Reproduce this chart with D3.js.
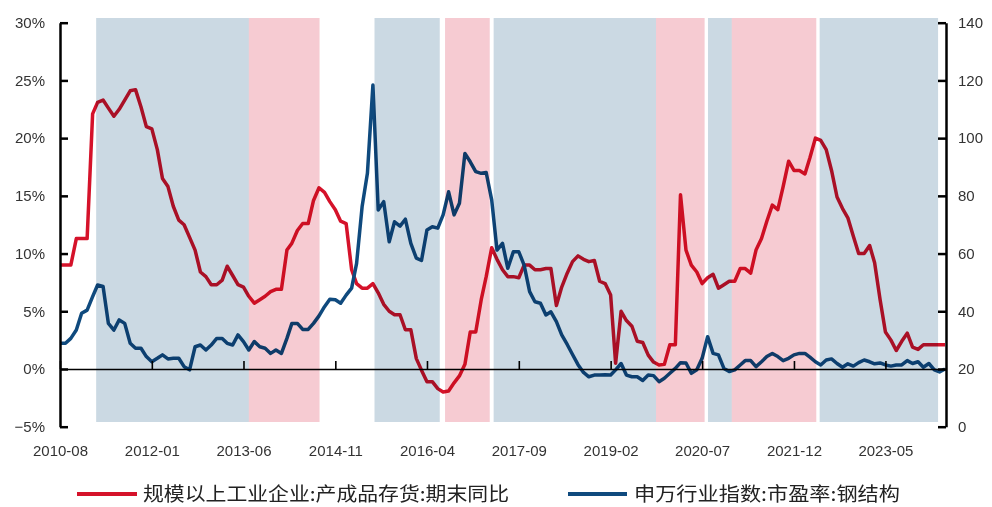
<!DOCTYPE html>
<html>
<head>
<meta charset="utf-8">
<script src="https://cdn.jsdelivr.net/npm/d3@7"></script>
<style>
  body { margin: 0; background: #fff; }
  svg { display: block; }
  .tick text { font-family: "Liberation Sans", Arial, sans-serif; font-size: 15px; fill: #333; }
  .legend text { font-family: "Noto Sans CJK SC", sans-serif; font-size: 19px; fill: #222; }
</style>
</head>
<body>
<svg id="chart" width="992" height="507"></svg>
<script>
// monthly data, 2010-08 .. 2024-04
var startMonth = "2010-08";
var endMonth = "2024-04";

// 规模以上工业企业:产成品存货:期末同比 (%)
var inventoryYoY = [
	9.0, 9.0, 9.0, 11.3, 11.3, 11.3, 22.1, 23.1, 23.3, 22.6,
	21.9, 22.5, 23.3, 24.1, 24.2, 22.7, 21.0, 20.8, 19.0, 16.5,
	15.8, 14.1, 12.9, 12.5, 11.4, 10.3, 8.4, 8.0, 7.3, 7.3,
	7.7, 8.9, 8.1, 7.3, 7.1, 6.3, 5.7, 6.0, 6.3, 6.7,
	6.9, 6.9, 10.3, 10.9, 12.0, 12.6, 12.6, 14.6, 15.7, 15.3,
	14.5, 13.8, 12.8, 12.6, 8.6, 7.4, 7.0, 7.0, 7.4, 6.6,
	5.6, 5.0, 4.7, 4.7, 3.4, 3.4, 0.9, -0.1, -1.1, -1.1,
	-1.7, -2.0, -1.9, -1.2, -0.6, 0.4, 3.2, 3.2, 6.0, 8.0,
	10.5, 9.5, 8.6, 8.0, 8.0, 7.9, 9.0, 9.0, 8.6, 8.6,
	8.7, 8.7, 5.5, 7.1, 8.3, 9.3, 9.8, 9.5, 9.3, 9.4,
	7.6, 7.4, 6.4, 0.5, 5.0, 4.2, 3.7, 2.4, 2.3, 1.2,
	0.6, 0.35, 0.4, 2.1, 2.1, 15.1, 10.3, 9.0, 8.4, 7.4,
	7.9, 8.2, 7.0, 7.3, 7.6, 7.6, 8.7, 8.7, 8.3, 10.3,
	11.3, 12.8, 14.2, 13.8, 15.8, 18.0, 17.2, 17.2, 16.9, 18.3,
	20.0, 19.8, 19.0, 17.2, 14.9, 13.9, 13.1, 11.5, 10.0, 10.0,
	10.7, 9.2, 6.0, 3.2, 2.5, 1.6, 2.4, 3.1, 1.9, 1.7,
	2.1, 2.1, 2.1, 2.1, 2.1
];

// 申万行业指数:市盈率:钢结构
var steelPE = [
	28.9, 28.9, 30.6, 33.5, 39.3, 40.4, 45.1, 49.1, 48.6, 35.8,
	33.5, 37.0, 35.8, 28.9, 27.2, 27.2, 24.3, 22.5, 23.7, 24.9,
	23.5, 23.7, 23.7, 20.8, 19.7, 27.7, 28.3, 26.6, 28.3, 30.6,
	30.6, 28.9, 28.3, 31.8, 29.5, 26.6, 29.5, 27.7, 27.2, 25.4,
	26.6, 25.4, 30.6, 35.8, 35.8, 33.7, 33.7, 35.8, 38.4, 41.6,
	44.2, 44.0, 42.8, 45.6, 48.0, 56.6, 76.2, 87.8, 118.4, 75.1,
	78.0, 64.1, 71.0, 69.5, 71.9, 63.5, 58.4, 57.6, 68.2, 69.3,
	68.8, 73.4, 81.4, 73.4, 77.4, 94.7, 91.8, 88.4, 87.8, 88.1,
	78.6, 61.2, 63.5, 54.9, 60.6, 60.6, 56.0, 46.8, 43.3, 42.8,
	38.7, 39.8, 36.4, 31.8, 28.5, 25.0, 21.5, 18.8, 17.3, 17.9,
	17.9, 18.0, 17.9, 19.7, 21.9, 17.9, 17.3, 17.3, 16.0, 17.9,
	17.7, 15.6, 16.8, 18.5, 20.2, 22.2, 22.1, 18.5, 19.7, 23.7,
	31.2, 25.4, 24.9, 20.2, 19.1, 19.7, 21.4, 22.9, 22.9, 20.8,
	22.5, 24.3, 25.4, 24.3, 22.9, 23.7, 24.9, 25.4, 25.4, 24.1,
	22.5, 21.4, 23.1, 23.5, 21.9, 20.6, 21.8, 21.0, 22.2, 23.1,
	22.5, 21.8, 22.1, 21.4, 21.0, 21.4, 21.4, 22.9, 21.9, 22.5,
	20.6, 21.9, 19.7, 19.0, 20.0
];

var xTickLabels = ["2010-08", "2012-01", "2013-06", "2014-11", "2016-04",
	"2017-09", "2019-02", "2020-07", "2021-12", "2023-05"];
var leftTicks = [-5, 0, 5, 10, 15, 20, 25, 30];
var rightTicks = [0, 20, 40, 60, 80, 100, 120, 140];

// shaded phases: "down" = blue, "up" = pink
var phaseType = ["down", "up", "down", "up", "down", "up", "down", "up", "down"];
var phaseStart = ["2011-02-21", "2013-07-01", "2015-06-10", "2016-07-12", "2017-04-12",
	"2019-10-15", "2020-08-03", "2020-12-15", "2022-04-25"];
var phaseEnd = ["2013-07-01", "2014-08-04", "2016-06-12", "2017-03-21", "2019-10-15",
	"2020-07-15", "2020-12-15", "2022-04-06", "2024-02-22"];

var legendNames = ["规模以上工业企业:产成品存货:期末同比", "申万行业指数:市盈率:钢结构"];

var parseMonth = d3.timeParse("%Y-%m");
var parseDay = d3.timeParse("%Y-%m-%d");
var months = d3.timeMonth.range(parseMonth(startMonth), d3.timeMonth.offset(parseMonth(endMonth), 1));

var svg = d3.select("#chart");
var plotLeft = 60, plotRight = 945, plotTop = 22.7, plotBottom = 426.7;

var x = d3.scaleTime().domain([months[0], months[months.length - 1]]).range([plotLeft, plotRight]);
var yL = d3.scaleLinear().domain([-5, 30]).range([plotBottom, plotTop]);
var yR = d3.scaleLinear().domain([0, 140]).range([plotBottom, plotTop]);

var redColor = "#d5122a";
var blueColor = "#0f4a7e";

svg.append("rect").attr("width", 992).attr("height", 507).attr("fill", "#fff");

// lines
var redLine = d3.line()
	.x(function (d, i) { return x(months[i]); })
	.y(function (d) { return yL(d); });
var blueLine = d3.line()
	.x(function (d, i) { return x(months[i]); })
	.y(function (d) { return yR(d); });

svg.append("path")
	.datum(inventoryYoY)
	.attr("d", redLine)
	.attr("fill", "none")
	.attr("stroke", redColor)
	.attr("stroke-width", 3.5)
	.attr("stroke-linejoin", "round");

svg.append("path")
	.datum(steelPE)
	.attr("d", blueLine)
	.attr("fill", "none")
	.attr("stroke", blueColor)
	.attr("stroke-width", 3.5)
	.attr("stroke-linejoin", "round");

// shading laid over the lines, multiplied like the original
var phases = phaseType.map(function (t, i) {
	return { type: t, from: parseDay(phaseStart[i]), to: parseDay(phaseEnd[i]) };
});
svg.append("g")
	.selectAll("rect")
	.data(phases)
	.enter()
	.append("rect")
	.attr("x", function (d) { return x(d.from); })
	.attr("width", function (d) { return x(d.to) - x(d.from); })
	.attr("y", 18)
	.attr("height", 404)
	.attr("fill", function (d) { return d.type === "down" ? "#cbd9e3" : "#f6cbd2"; })
	.style("mix-blend-mode", "multiply");

// zero line with small ticks
var tickDates = xTickLabels.map(parseMonth);
var zeroAxis = svg.append("g")
	.attr("transform", "translate(0," + yL(0) + ")")
	.call(d3.axisTop(x).tickValues(tickDates).tickSize(8).tickSizeOuter(0).tickFormat(""));
zeroAxis.selectAll("path, line").attr("stroke", "#000").attr("stroke-width", 1.6);

// month labels
var labelAxis = svg.append("g")
	.attr("transform", "translate(0,440)")
	.call(d3.axisBottom(x).tickValues(tickDates).tickSize(0).tickPadding(5)
		.tickFormat(d3.timeFormat("%Y-%m")));
labelAxis.select(".domain").remove();

// left axis
var leftAxis = svg.append("g")
	.attr("transform", "translate(" + plotLeft + ",0)")
	.call(d3.axisLeft(yL).tickValues(leftTicks).tickSize(-8).tickSizeOuter(0).tickPadding(15)
		.tickFormat(function (d) { return (d < 0 ? "\u2212" + (-d) : d) + "%"; }));
leftAxis.selectAll("path, line").attr("stroke", "#000").attr("stroke-width", 2.5);

// right axis
var rightAxis = svg.append("g")
	.attr("transform", "translate(" + (plotRight + 1) + ",0)")
	.call(d3.axisRight(yR).tickValues(rightTicks).tickSize(-8).tickSizeOuter(0).tickPadding(12));
rightAxis.selectAll("path, line").attr("stroke", "#000").attr("stroke-width", 2.5);

// legend
var legend = svg.append("g").attr("class", "legend");
var legendItems = [
	{ name: legendNames[0], color: redColor, x0: 77, x1: 137, tx: 143, len: 366 },
	{ name: legendNames[1], color: blueColor, x0: 568, x1: 627, tx: 634, len: 266 }
];
legendItems.forEach(function (item) {
	legend.append("line")
		.attr("x1", item.x0).attr("x2", item.x1)
		.attr("y1", 494).attr("y2", 494)
		.attr("stroke", item.color)
		.attr("stroke-width", 4);
	legend.append("text")
		.attr("x", item.tx)
		.attr("y", 494)
		.attr("dy", "0.36em")
		.attr("textLength", item.len)
		.attr("lengthAdjust", "spacingAndGlyphs")
		.text(item.name);
});
</script>
</body>
</html>
